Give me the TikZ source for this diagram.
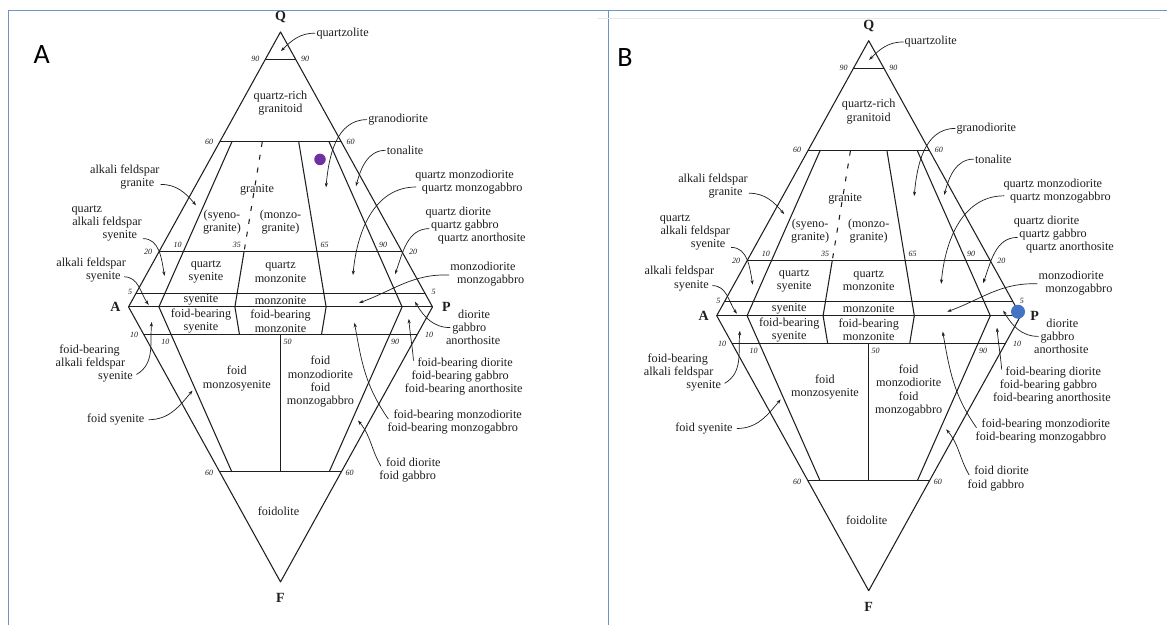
\documentclass[tikz,border=0pt]{standalone}
\usepackage{fontspec}
\setmainfont{Liberation Serif}
\newfontfamily\panelfont{Carlito}
\usetikzlibrary{arrows.meta}
\definecolor{framec}{RGB}{112,146,192}
\definecolor{dotpurple}{RGB}{112,48,160}
\definecolor{dotblue}{RGB}{68,114,196}
\definecolor{ink}{RGB}{30,30,30}
\tikzset{
 lbl/.style={font=\fontsize{12.2}{13.2}\selectfont, align=center, inner sep=0pt, text=ink},
 lbll/.style={lbl, align=left, anchor=west},
 num/.style={font=\fontsize{8}{9}\selectfont\itshape, inner sep=0pt, text=ink},
 vtx/.style={font=\fontsize{14}{16}\selectfont\bfseries, inner sep=0pt, text=ink},
 qline/.style={draw=ink, line width=1.05pt, line join=round},
 arr/.style={draw=ink, line width=0.7pt, -{Stealth[length=4.5pt,width=3.2pt]}},
 framel/.style={draw=framec, line width=1.2pt},
 panel/.style={font=\panelfont\fontsize{28}{30}\selectfont, inner sep=0pt, text=black},
}
\newcommand{\qapfplot}[2]{%
\begin{scope}[shift={#2}]
 % outline and fields
 \draw[qline] (0,275) -- (-152,0) -- (0,-275) -- (152,0) -- cycle;
 \draw[qline] (-15.2,247.5) -- (15.2,247.5);
 \draw[qline] (-60.8,165) -- (60.8,165);
 \draw[qline] (-121.6,55) -- (121.6,55);
 \draw[qline] (-144.4,13.75) -- (144.4,13.75);
 \draw[qline] (-152,0) -- (152,0);
 \draw[qline] (-136.8,-27.5) -- (136.8,-27.5);
 \draw[qline] (-60.8,-165) -- (60.8,-165);
 \draw[qline] (-48.64,165) -- (-121.6,0) -- (-48.64,-165);
 \draw[qline] (48.64,165) -- (121.6,0) -- (48.64,-165);
 \draw[qline,dash pattern=on 5pt off 8pt] (-18.24,165) -- (-36.48,55);
 \draw[qline] (-36.48,55) -- (-45.6,0) -- (-41.04,-27.5);
 \draw[qline] (18.24,165) -- (45.6,0) -- (41.04,-27.5);
 \draw[qline] (0,-27.5) -- (0,-165);
 % numbers
 \node[num] (#1n90l) at (-25.2,248.3) {90};
 \node[num] (#1n90r) at (24.7,248.3) {90};
 \node[num] (#1n60l) at (-71.5,165.4) {60};
 \node[num] (#1n60r) at (70.2,165.4) {60};
 \node[num] (#1n20l) at (-132.5,55) {20};
 \node[num] (#1n20r) at (132.7,55) {20};
 \node[num] (#1n5l) at (-150.3,14.8) {5};
 \node[num] (#1n5r) at (153.1,14.8) {5};
 \node[num] (#1n10l) at (-146.5,-27.9) {10};
 \node[num] (#1n10r) at (148.5,-27.9) {10};
 \node[num] (#1n60bl) at (-71.5,-166.2) {60};
 \node[num] (#1n60br) at (69.1,-166.2) {60};
 \node[num] (#1i10) at (-102.9,61.8) {10};
 \node[num] (#1i35) at (-43.7,61.8) {35};
 \node[num] (#1i65) at (44,61.8) {65};
 \node[num] (#1i90) at (102.5,61.8) {90};
 \node[num] (#1j10) at (-115.1,-34.7) {10};
 \node[num] (#1j50) at (7,-34.7) {50};
 \node[num] (#1j90) at (114.5,-34.7) {90};
 % vertices
 \node[vtx] (#1Q) at (0,290.2) {Q};
 \node[vtx] (#1A) at (-165,0) {A};
 \node[vtx] (#1P) at (166,0) {P};
 \node[vtx] (#1F) at (0,-290.9) {F};
 % fields
 \node[lbl] (#1qrg) at (0,204.1) {quartz-rich\\granitoid};
 \node[lbl] (#1gr) at (-23.5,116.8) {granite};
 \node[lbl] (#1syg) at (-58.5,84.9) {(syeno-\\granite)};
 \node[lbl] (#1mzg) at (0,84.9) {(monzo-\\granite)};
 \node[lbl] (#1qsy) at (-74.5,34.7) {quartz\\syenite};
 \node[lbl] (#1qmz) at (0,34.7) {quartz\\monzonite};
 \node[lbl] (#1sy) at (-79.5,6.8) {syenite};
 \node[lbl] (#1mz) at (0,6.8) {monzonite};
 \node[lbl] (#1fbsy) at (-79.5,-14.3) {foid-bearing\\syenite};
 \node[lbl] (#1fbmz) at (0,-14.3) {foid-bearing\\monzonite};
 \node[lbl] (#1fmzs) at (-43.7,-71.7) {foid\\monzosyenite};
 \node[lbl] (#1fmzd) at (40,-74.9) {foid\\monzodiorite\\foid\\monzogabbro};
 \node[lbl] (#1fdl) at (-2,-204.5) {foidolite};
 % outside labels, right
 \node[lbll] (#1qzl) at (35.8,273.8) {quartzolite};
 \node[lbll] (#1grd) at (87.6,187.3) {granodiorite};
 \node[lbll] (#1ton) at (106.1,156.6) {tonalite};
 \node[lbll] (#1qmzd) at (134.6,124.9) {quartz monzodiorite\\\hspace*{6.6pt}quartz monzogabbro};
 \node[lbll] (#1qd) at (144.9,81.3) {quartz diorite\\\hspace*{5.6pt}quartz gabbro\\\hspace*{12.3pt}quartz anorthosite};
 \node[lbll] (#1mzd) at (169.7,32.9) {monzodiorite\\\hspace*{6.7pt}monzogabbro};
 \node[lbll] (#1dio) at (165.3,-20.7) {\hspace*{12.2pt}diorite\\\hspace*{6.3pt}gabbro\\anorthosite};
 \node[lbll] (#1fbd) at (124.2,-69.6) {\hspace*{12.6pt}foid-bearing diorite\\\hspace*{6.7pt}foid-bearing gabbro\\foid-bearing anorthosite};
 \node[lbll] (#1fbmzd) at (106.8,-115) {\hspace*{6pt}foid-bearing monzodiorite\\foid-bearing monzogabbro};
 \node[lbll] (#1fd) at (98.7,-162.8) {\hspace*{6.7pt}foid diorite\\foid gabbro};
 % outside labels, left
 \node[lbll] (#1afg) at (-190.6,129.5) {alkali feldspar\\\hspace*{30.3pt}granite};
 \node[lbll] (#1qafs) at (-209.1,83.3) {quartz\\\hspace*{0.7pt}alkali feldspar\\\hspace*{31pt}syenite};
 \node[lbll] (#1afs) at (-224.3,37.1) {alkali feldspar\\\hspace*{29.6pt}syenite};
 \node[lbll] (#1fbafs) at (-225,-56.6) {\hspace*{3.7pt}foid-bearing\\alkali feldspar\\\hspace*{42.5pt}syenite};
 \node[lbll] (#1fs) at (-193.6,-112.8) {foid syenite};
 % arrow targets
 \coordinate (#1qzl-t) at (0.5,255.9);
 \coordinate (#1grd-t) at (45.5,119.6);
 \coordinate (#1ton-t) at (75.5,120.8);
 \coordinate (#1qmzd-t) at (72.5,31.9);
 \coordinate (#1qd-t) at (114.5,32.7);
 \coordinate (#1mzd-t) at (78.5,4);
 \coordinate (#1dio-t) at (134.5,5.2);
 \coordinate (#1fbd-t) at (128.3,-12);
 \coordinate (#1fbmzd-t) at (74,-15.9);
 \coordinate (#1fd-t) at (77.5,-113.6);
 \coordinate (#1afg-t) at (-84.5,101.6);
 \coordinate (#1qafs-t) at (-116,31.1);
 \coordinate (#1afs-t) at (-131.8,2);
 \coordinate (#1fbafs-t) at (-128.8,-15.1);
 \coordinate (#1fs-t) at (-88,-83.7);
 % arrows
 \draw[arr] ([xshift=-1pt]#1qzl.west) to[out=180,in=45] (#1qzl-t);
 \draw[arr] ([xshift=-1pt]#1grd.west) to[out=180,in=85] (#1grd-t);
 \draw[arr] ([xshift=-1pt]#1ton.west) to[out=180,in=75] (#1ton-t);
 \draw[arr] ([xshift=1pt,yshift=-5pt]#1qmzd.west) to[out=180,in=85] (#1qmzd-t);
 \draw[arr] ([xshift=4pt,yshift=-3pt]#1qd.west) to[out=180,in=70] (#1qd-t);
 \draw[arr] ([xshift=-1pt,yshift=-1pt]#1mzd.west) to[out=178,in=20] (#1mzd-t);
 \draw[arr] ([xshift=4.5pt]#1dio.west) to[out=180,in=-60] (#1dio-t);
 \draw[arr] ([xshift=8.8pt,yshift=15.8pt]#1fbd.west) to[out=95,in=-85] (#1fbd-t);
 \draw[arr] ([xshift=1pt,yshift=3pt]#1fbmzd.west) to[out=125,in=-80] (#1fbmzd-t);
 \draw[arr] ([xshift=1.8pt,yshift=3.4pt]#1fd.west) to[out=120,in=-50] (#1fd-t);
 \draw[arr] ([xshift=1pt,yshift=-7pt]#1afg.east) to[out=0,in=130] (#1afg-t);
 \draw[arr] ([xshift=1pt,yshift=-15pt]#1qafs.east) to[out=0,in=100] (#1qafs-t);
 \draw[arr] ([xshift=-2pt,yshift=-7pt]#1afs.east) to[out=0,in=125] (#1afs-t);
 \draw[arr] ([xshift=3.5pt,yshift=-11pt]#1fbafs.east) to[out=30,in=-95] (#1fbafs-t);
 \draw[arr] ([xshift=4pt]#1fs.east) to[out=0,in=-130] (#1fs-t);
\end{scope}}
\begin{document}
\begin{tikzpicture}[x=1pt,y=1pt]
 \useasboundingbox (0,0) rectangle (1167,-625);
 \fill[white] (0,0) rectangle (1167,-625);
 % frame
 \draw[framel] (8.3,-625) -- (8.3,-10.5) -- (1167,-10.5);
 \draw[framel] (608.7,-10.5) -- (608.7,-625);
 \draw[gray!18, line width=1pt] (597,-18.3) -- (1160,-18.3);
 % panel letters
 \node[panel] (labA) at (41.8,-54.2) {A};
 \node[panel] (labB) at (625,-57.8) {B};
 % diagrams
 \qapfplot{a}{(280.5,-306.9)}
 \qapfplot{b}{(868.7,-315.7)}
 % marker dots
 \node[circle, fill=dotpurple, minimum size=11.5pt, inner sep=0pt] (dotA) at (320,-159.4) {};
 \node[circle, fill=dotblue, minimum size=14pt, inner sep=0pt] (dotB) at (1018,-311.7) {};
\end{tikzpicture}
\end{document}
